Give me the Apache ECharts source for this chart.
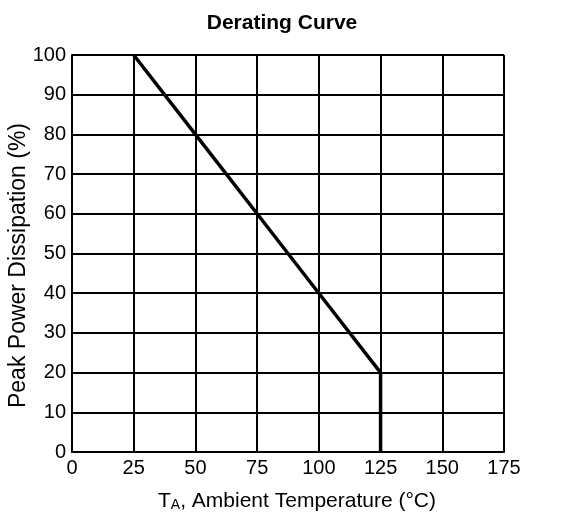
<!DOCTYPE html>
<html><head><meta charset="utf-8">
<script src="https://cdn.jsdelivr.net/npm/echarts@6/dist/echarts.min.js"></script>
<style>html,body{margin:0;padding:0;background:#fff}#c{width:584px;height:514px}</style>
</head><body><div id="c"></div>
<script>
var temps = [25, 50, 75, 100, 125, 125];
var power = [100, 80, 60, 40, 20, 0];
var xTicks = [0, 25, 50, 75, 100, 125, 150, 175];
var yTicks = [0, 10, 20, 30, 40, 50, 60, 70, 80, 90, 100];
var font = '"Liberation Sans", Arial, sans-serif';
var chart = echarts.init(document.getElementById('c'));
chart.setOption({
  animation: false,
  title: {text: 'Derating Curve', left: 277, top: 8, textAlign: 'center',
    textStyle: {fontFamily: font, fontSize: 21, fontWeight: 'bold', color: '#000'}},
  grid: {left: 72, right: 80, top: 55, bottom: 62, containLabel: false, outerBoundsMode: 'none'},
  xAxis: {type: 'value', min: xTicks[0], max: xTicks[xTicks.length-1], interval: 25,
    name: '{n|T}{s|A}{n|, Ambient Temperature (°C)}', nameLocation: 'middle', nameGap: 38,
    nameTextStyle: {padding: [0, 0, 0, 18], rich: {n: {fontFamily: font, fontSize: 21, color: '#000'}, s: {fontFamily: font, fontSize: 14, color: '#000', verticalAlign: 'bottom', padding: [8,0,0,0]}}},
    axisLine: {show: true, lineStyle: {color: '#000', width: 2}}, axisTick: {show: false},
    axisLabel: {fontFamily: font, fontSize: 20, color: '#000', margin: 6},
    splitLine: {show: true, lineStyle: {color: '#000', width: 2}}},
  yAxis: {type: 'value', min: yTicks[0], max: yTicks[yTicks.length-1], interval: 10,
    name: 'Peak Power Dissipation (%)', nameLocation: 'middle', nameGap: 42, nameMoveOverlap: false,
    nameTextStyle: {fontFamily: font, fontSize: 23, color: '#000', padding: [0, 24, 0, 0]},
    axisLine: {show: true, lineStyle: {color: '#000', width: 2}}, axisTick: {show: false},
    axisLabel: {fontFamily: font, fontSize: 20, color: '#000', margin: 6},
    splitLine: {show: true, lineStyle: {color: '#000', width: 2}}},
  series: [{type: 'line', data: temps.map(function(t, i){return [t, power[i]];}),
    symbol: 'none', lineStyle: {color: '#000', width: 3.5}}]
});
</script></body></html>
